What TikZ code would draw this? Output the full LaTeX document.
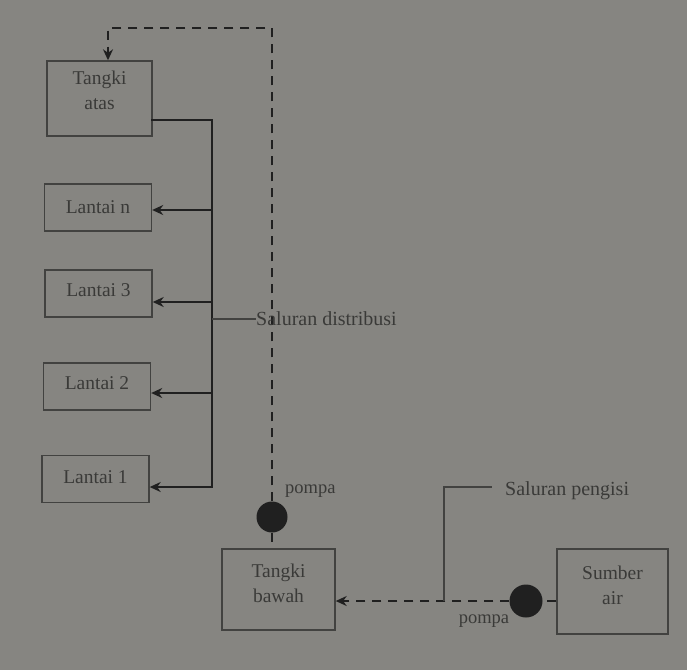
\documentclass[tikz,border=0pt]{standalone}
\usepackage{fontspec}
\setmainfont{Liberation Serif}
\usetikzlibrary{arrows.meta}

\definecolor{paper}{RGB}{134,133,129}
\definecolor{ink}{RGB}{32,32,32}
\definecolor{inktext}{RGB}{58,58,56}
\definecolor{inkbox}{RGB}{66,66,64}

\tikzset{
  stagebox/.style={draw=inkbox, line width=1.4pt, inner sep=0pt},
  stagetext/.style={align=center, text=inktext, inner sep=0pt,
    font=\fontsize{19.5}{25.5}\selectfont},
  pipe/.style={draw=ink, line width=2.8pt},
  feed/.style={pipe, -{Stealth[length=11pt,width=10pt]}},
  pumpline/.style={draw=ink, line width=2.6pt, dash pattern=on 9pt off 7pt},
  pumptip/.style={-{Stealth[length=11pt,width=10pt]}},
  leader/.style={draw=inkbox, line width=1.3pt},
  pumpdot/.style={circle, fill=ink, draw=none, inner sep=0pt},
  lbl/.style={text=inktext, font=\fontsize{20}{24}\selectfont, inner sep=0pt},
  smalllbl/.style={text=inktext, font=\fontsize{18.5}{22}\selectfont, inner sep=0pt}
}

\begin{document}
\begin{tikzpicture}[x=1pt, y=-1pt]
  \useasboundingbox[fill=paper] (0,0) rectangle (687,670);

  % storage tanks, floors and source
  \node[stagebox, minimum width=105pt, minimum height=75pt,
    label={[stagetext, yshift=8pt]center:Tangki\\atas}] (ta) at (99.5,98.5) {};
  \node[stagebox, minimum width=107pt, minimum height=47pt,
    label={[stagetext]center:Lantai n}] (ln) at (98,207.5) {};
  \node[stagebox, minimum width=107pt, minimum height=47pt,
    label={[stagetext, yshift=3pt]center:Lantai 3}] (l3) at (98.5,293.5) {};
  \node[stagebox, minimum width=107pt, minimum height=47pt,
    label={[stagetext, yshift=3pt]center:Lantai 2}] (l2) at (97,386.5) {};
  \node[stagebox, minimum width=107pt, minimum height=47pt,
    label={[stagetext, yshift=2pt]center:Lantai 1}] (l1) at (95.5,479) {};
  \node[stagebox, minimum width=113pt, minimum height=81pt,
    label={[stagetext, yshift=6pt]center:Tangki\\bawah}] (tb) at (278.5,589.5) {};
  \node[stagebox, minimum width=111pt, minimum height=85pt,
    label={[stagetext, yshift=6pt]center:Sumber\\air}] (sa) at (612.5,591.5) {};

  % pumps
  \node[pumpdot, minimum size=31pt] (p1) at (272,517) {};
  \node[pumpdot, minimum size=33pt] (p2) at (526,601) {};
  \node[smalllbl, anchor=west] (pl1) at (285,491) {pompa};
  \node[smalllbl] (pl2) at (484,621) {pompa};

  % distribution trunk
  \coordinate (dt) at (212,120);
  \coordinate (dn) at (212,210);
  \coordinate (d3) at (212,302);
  \coordinate (d2) at (212,393);
  \coordinate (d1) at (212,487);
  \draw[pipe, line cap=rect] (dt -| ta.east) -- (dt) -- (d1);
  \draw[feed] (dn) -- (dn -| ln.east);
  \draw[feed] (d3) -- (d3 -| l3.east);
  \draw[feed] (d2) -- (d2 -| l2.east);
  \draw[feed] (d1) -- (d1 -| l1.east);

  % rising main from lower tank to upper tank
  \coordinate (rt) at (273,28);
  \coordinate (rl) at (108,28);
  \draw[pumpline, pumptip] (p1.north) -- (p1.north |- rt) -- (rl) -- (rl |- ta.north);
  \draw[pumpline] (p1.south) -- (p1.south |- tb.north);

  % filling line from the source
  \draw[pumpline] (sa.west |- p2) -- (p2.east);
  \draw[pumpline, pumptip] (p2.west) -- (p2 -| tb.east);

  % leader labels
  \node[lbl, anchor=west] (sd) at (256,319) {Saluran distribusi};
  \draw[leader] (dt |- sd.west) -- (sd.west);
  \node[lbl, anchor=west] (sp) at (505,491) {Saluran pengisi};
  \coordinate (spb) at (444,601);
  \coordinate (spt) at (444,487);
  \draw[leader] (spb) -- (spt) -- ([xshift=-13pt]spt -| sp.west);
\end{tikzpicture}
\end{document}
